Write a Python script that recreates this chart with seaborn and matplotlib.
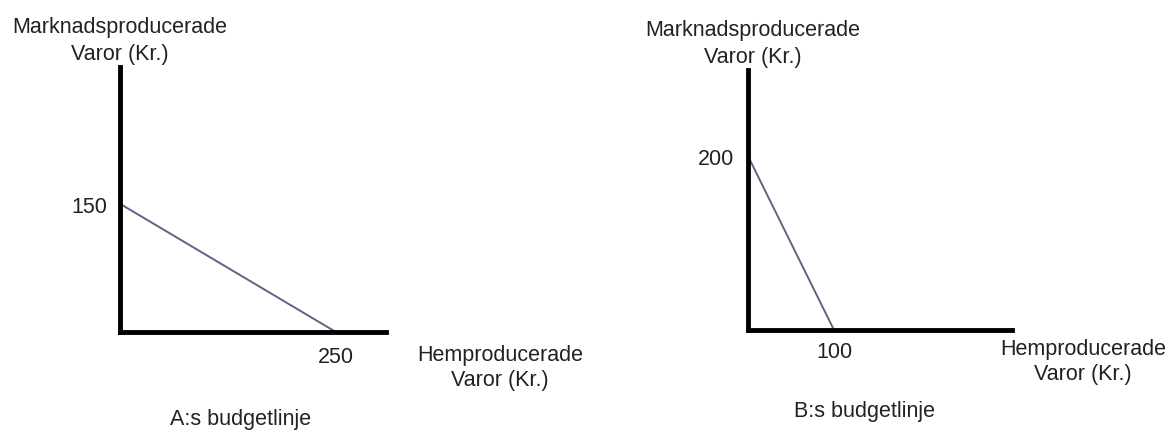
import matplotlib
matplotlib.use("Agg")
import matplotlib.pyplot as plt
import pandas as pd
import seaborn as sns

# budget line end points (Hemproducerade, Marknadsproducerade)
a_home = [0, 250]
a_market = [150, 0]
b_home = [0, 100]
b_market = [200, 0]

y_label = "Marknadsproducerade\nVaror (Kr.)"
x_label = "Hemproducerade\nVaror (Kr.)"
titles = ["A:s budgetlinje", "B:s budgetlinje"]

sns.set_theme(style="white")
plt.rcParams["font.family"] = ["Liberation Sans", "DejaVu Sans"]

W, H = 1174, 435
fig = plt.figure(figsize=(W / 100, H / 100), dpi=100)
fig.patch.set_facecolor("white")

TEXT = "#222222"
LINE = "#5b6684"
FS = 15.5


def px(x, y):
    return x / W, 1 - y / H


panels = [
    dict(rect=[120, 68, 386, 333], home=a_home, market=a_market,
         xlim=308, ylim=310, xpad=10, ypad=9,
         ylab=(120, 41), xlab=(500, 368), title=(241, 420)),
    dict(rect=[748, 71, 1012, 331], home=b_home, market=b_market,
         xlim=307, ylim=299, xpad=8, ypad=10,
         ylab=(753, 44), xlab=(1083, 362), title=(865, 412)),
]

for p, title in zip(panels, titles):
    x0, y0, x1, y1 = p["rect"]
    ax = fig.add_axes([x0 / W, 1 - y1 / H, (x1 - x0) / W, (y1 - y0) / H])
    df = pd.DataFrame({"home": p["home"], "market": p["market"]})
    sns.lineplot(data=df, x="home", y="market", ax=ax, color=LINE, lw=1.4)
    ax.set_xlim(0, p["xlim"])
    ax.set_ylim(0, p["ylim"])
    ax.set_facecolor("white")
    for side in ["top", "right"]:
        ax.spines[side].set_visible(False)
    for side in ["left", "bottom"]:
        ax.spines[side].set_color("black")
        ax.spines[side].set_linewidth(3.5)
    ax.set_xticks([max(p["home"])])
    ax.set_yticks([max(p["market"])])
    ax.tick_params(axis="x", length=0, pad=p["xpad"], labelsize=FS, labelcolor=TEXT)
    ax.tick_params(axis="y", length=0, pad=p["ypad"], labelsize=FS, labelcolor=TEXT)
    ax.set_xlabel("")
    ax.set_ylabel("")

    fig.text(*px(*p["ylab"]), y_label, ha="center", va="center",
             fontsize=FS, color=TEXT, linespacing=1.35)
    fig.text(*px(*p["xlab"]), x_label, ha="center", va="center",
             fontsize=FS, color=TEXT, linespacing=1.2)
    fig.text(*px(*p["title"]), title, ha="center", va="center",
             fontsize=FS, color=TEXT)

fig.savefig("out.png", dpi=100, facecolor="white")
